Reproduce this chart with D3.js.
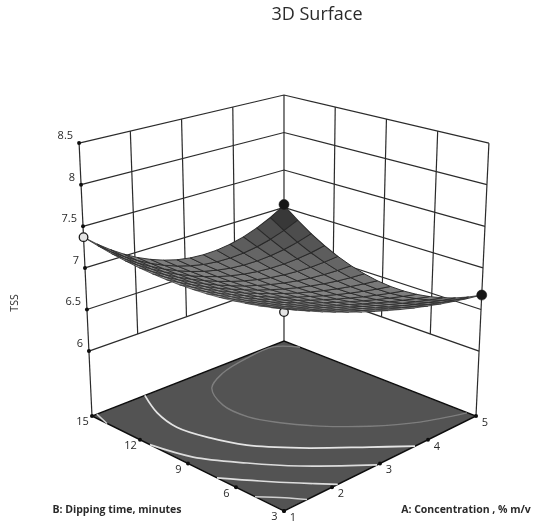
<!DOCTYPE html>
<html><head><meta charset="utf-8">
<script src="https://cdn.jsdelivr.net/npm/d3@7"></script>
<style>html,body{margin:0;padding:0;background:#fff}svg{display:block}text{font-family:"Open Sans",sans-serif;fill:#2a2a2a}</style>
</head><body><svg id="c" width="537" height="525"></svg>
<script>
const title = "3D Surface";
const zLabel = "TSS", bLabel = "B: Dipping time, minutes", aLabel = "A:  Concentration , % m/v";
const aTicks = [1,2,3,4,5];
const bTicks = [3,6,9,12,15];
const zTicks = [6,6.5,7,7.5,8,8.5];
const zTickLabels = ["6","6.5","7","7.5","8","8.5"];
// TSS on the mesh: rows run A = 1..5, columns run B = 3..15
const tss = [
[8.44,8.264,8.103,7.956,7.825,7.708,7.606,7.518,7.445,7.388,7.345,7.315,7.302,7.303,7.318,7.35],
[8.235,8.076,7.931,7.798,7.677,7.57,7.475,7.392,7.324,7.268,7.224,7.193,7.175,7.17,7.177,7.198],
[8.042,7.899,7.767,7.647,7.537,7.438,7.35,7.274,7.207,7.151,7.107,7.073,7.051,7.04,7.039,7.05],
[7.861,7.732,7.613,7.503,7.402,7.311,7.229,7.156,7.092,7.038,6.993,6.958,6.932,6.915,6.907,6.909],
[7.692,7.576,7.467,7.367,7.274,7.189,7.112,7.043,6.981,6.928,6.882,6.845,6.815,6.793,6.778,6.772],
[7.536,7.43,7.331,7.238,7.152,7.073,7,6.934,6.874,6.821,6.775,6.735,6.702,6.675,6.655,6.642],
[7.393,7.296,7.204,7.118,7.038,6.963,6.893,6.829,6.771,6.718,6.67,6.628,6.592,6.561,6.536,6.516],
[7.261,7.171,7.086,7.005,6.929,6.858,6.791,6.728,6.671,6.618,6.569,6.525,6.486,6.451,6.421,6.396],
[7.142,7.057,6.977,6.9,6.827,6.758,6.693,6.631,6.574,6.52,6.471,6.425,6.383,6.345,6.311,6.281],
[7.035,6.954,6.876,6.802,6.731,6.663,6.599,6.538,6.481,6.427,6.376,6.328,6.284,6.244,6.206,6.172],
[6.941,6.862,6.786,6.712,6.642,6.575,6.511,6.45,6.391,6.336,6.284,6.235,6.189,6.145,6.105,6.068],
[6.859,6.78,6.704,6.63,6.56,6.492,6.427,6.365,6.306,6.249,6.196,6.145,6.097,6.052,6.009,5.97],
[6.789,6.709,6.631,6.556,6.484,6.415,6.348,6.285,6.224,6.166,6.111,6.058,6.009,5.962,5.918,5.877],
[6.732,6.648,6.567,6.489,6.414,6.342,6.274,6.208,6.145,6.085,6.028,5.974,5.924,5.876,5.831,5.789],
[6.687,6.598,6.512,6.43,6.351,6.276,6.204,6.135,6.07,6.008,5.949,5.894,5.842,5.794,5.749,5.707],
[6.654,6.558,6.467,6.379,6.295,6.215,6.139,6.067,5.998,5.934,5.874,5.817,5.764,5.716,5.671,5.63]
];
// design points [A, B, TSS, hollow?]
const designPoints = [[1,3,8.45,0],[5,3,6.654,0],[1,15,7.35,1],[5,15,5.59,1]];
// floor contours as [A,B] paths
const contour1 = [[5,14.0],[4.73,14.87],[4.16,14.8],[3.52,14.38],[3.03,13.6],[2.73,12.0],[2.72,10.4],[2.92,9.0],[3.25,7.51],[3.75,5.88],[4.33,4.5],[4.99,3.53]];
const contour2 = [[2.10,15],[1.82,13.38],[1.70,11.8],[1.82,10.07],[2.05,8.47],[2.54,6.64],[3.27,4.44],[3.73,3]];
const contour3 = [[1,11.38],[1.2,9.28],[1.65,7.26],[2.14,5.41],[2.94,3]];
const contour4 = [[1,7.19],[1.39,5.68],[1.76,4.30],[2.12,3]];
const contour5 = [[1,4.81],[1.29,3.82],[1.48,3]];
const contour6 = [[1,14.06],[1.10,15]];
const contourStyles = [[contour1,"#7e7e7e",1.4],[contour2,"#e4e4e4",1.8],[contour3,"#dcdcdc",1.7],[contour4,"#dedede",1.6],[contour5,"#cfcfcf",1.5],[contour6,"#cfcfcf",1.5]];

const U = d3.scaleLinear().domain([1,5]).range([0,1]);
const V = d3.scaleLinear().domain([3,15]).range([0,1]);
const T = d3.scaleLinear().domain([5.22,8.5]).range([0,3.28]);
const X = d3.scaleLinear().domain([-1,1]).range([92,476]);
const tilt = 0.0205;
// walls and floor
function wall(a,b,z){
  const u=U(a),v=V(b),t=T(z),x0=X(u-v);
  const y=511-95*(u+v)+20*u*v, s=94.3-11.1*(u+v)+2.9*u*v;
  return [x0+(x0-284)*tilt*t, y-s*t];
}
// surface: foreshortened depth
function surf(a,b,z){
  const u=U(a),v=V(b),t=z-5.2,x0=X(u-v),w=1+0.1333*(u+v);
  return [x0+(x0-284)*tilt*t,(511-39.5*(u+v))/w-94.3*t/w];
}
const A = i=>1+4*i/15, B = j=>3+12*j/15;
const svg = d3.select("#c");
const defs = svg.append("defs");
defs.append("filter").attr("id","soft").append("feGaussianBlur").attr("stdDeviation",0.4);
const g = svg.append("g").attr("filter","url(#soft)");
const ln = d3.line();
const seg=(p,c="#2b2b2b",w=1.2)=>g.append("path").attr("d",ln(p)).attr("fill","none").attr("stroke",c).attr("stroke-width",w);

// walls
zTicks.forEach(z=>{ seg([wall(1,15,z),wall(5,15,z),wall(5,3,z)]); });
[2,3,4].forEach(a=>seg([wall(a,15,6),wall(a,15,8.5)]));
[6,9,12].forEach(b=>seg([wall(5,b,6),wall(5,b,8.5)]));
[[1,15],[5,15],[5,3]].forEach(c=>seg([wall(c[0],c[1],5.22),wall(c[0],c[1],8.5)]));

// floor
g.append("path").attr("d",ln([wall(1,3,5.22),wall(5,3,5.22),wall(5,15,5.22),wall(1,15,5.22)])+"Z")
 .attr("fill","#525252").attr("stroke","#111").attr("stroke-width",1.4);
const cl = d3.line().x(d=>wall(d[0],d[1],5.22)[0]).y(d=>wall(d[0],d[1],5.22)[1]).curve(d3.curveCatmullRom);
contourStyles.forEach(([c,col,w])=>g.append("path").attr("d",cl(c)).attr("fill","none").attr("stroke",col).attr("stroke-width",w));

// floor ticks and labels
const dot=(p,r=2)=>g.append("circle").attr("cx",p[0]).attr("cy",p[1]).attr("r",r).attr("fill","#111");
const label=(p,s,anchor="middle",fs=11)=>g.append("text").attr("x",p[0]).attr("y",p[1]).attr("text-anchor",anchor).attr("dominant-baseline","middle").attr("font-size",fs).text(s);
aTicks.forEach(a=>{ const p=wall(a,3,5.22); dot(p); label([p[0]+9,p[1]+7],a); });
bTicks.forEach(b=>{ const p=wall(1,b,5.22); dot(p); label([p[0]-9.5,p[1]+6.5],b); });
zTicks.forEach((z,i)=>{ const p=wall(1,15,z); dot(p); label([p[0]-6,p[1]-7],zTickLabels[i],"end"); });

// hollow back point sits under the surface rim
const pt=d=>{ const p=surf(d[0],d[1],d[2]);
  g.append("circle").attr("cx",p[0]).attr("cy",p[1]).attr("r",d[3]?4.3:5).attr("fill",d[3]?"#e4e4e4":"#141414").attr("stroke","#1c1c1c").attr("stroke-width",d[3]?1.3:.6); };
pt(designPoints[3]);

// surface
const shade = d3.scaleLinear().domain([0,0.12,0.5,1.1,2]).range(["#222222","#4c4c4c","#787878","#8e8e8e","#b8b8b8"]);
const meshWidth = d3.scaleLinear().domain([0,0.6,1.4]).range([1.05,0.95,0.7]);
const cells=[];
for(let i=0;i<15;i++)for(let j=0;j<15;j++) cells.push({i,j,k:i+j});
cells.sort((a,b)=>b.k-a.k);
g.append("g").selectAll("path").data(cells).join("path")
 .attr("d",c=>ln([surf(A(c.i),B(c.j),tss[c.i][c.j]),surf(A(c.i+1),B(c.j),tss[c.i+1][c.j]),surf(A(c.i+1),B(c.j+1),tss[c.i+1][c.j+1]),surf(A(c.i),B(c.j+1),tss[c.i][c.j+1])])+"Z")
 .attr("fill",c=>shade((c.k+1)/15)).attr("stroke","#2a2a2a").attr("stroke-width",c=>meshWidth((c.k+1)/15)).attr("stroke-linejoin","round");

[designPoints[0],designPoints[1],designPoints[2]].forEach(pt);

// titles
g.append("text").attr("x",317).attr("y",15).attr("text-anchor","middle").attr("dominant-baseline","middle").attr("font-size",18).text(title);
g.append("text").attr("transform","translate(15,303) rotate(-90)").attr("text-anchor","middle").attr("dominant-baseline","middle").attr("font-size",10.5).text(zLabel);
g.append("text").attr("x",117).attr("y",510).attr("text-anchor","middle").attr("dominant-baseline","middle").attr("font-size",10.5).attr("font-weight",700).text(bLabel);
g.append("text").attr("x",466).attr("y",510).attr("text-anchor","middle").attr("dominant-baseline","middle").attr("font-size",10.5).attr("font-weight",700).text(aLabel);
</script></body></html>
